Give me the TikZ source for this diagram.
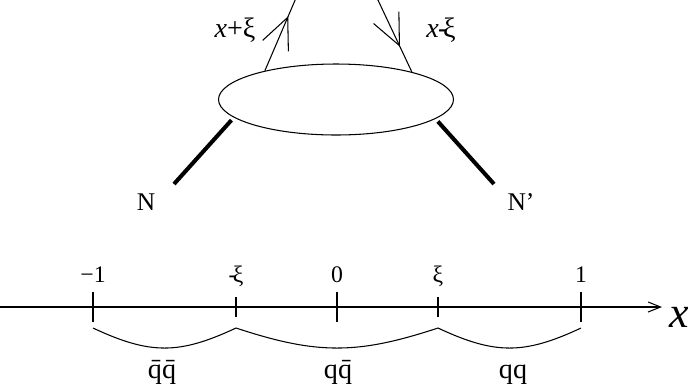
\documentclass[tikz,border=0pt]{standalone}
\usepackage{fontspec}
\setmainfont{Liberation Serif}
\usetikzlibrary{arrows.meta,shapes.geometric,decorations.markings}

\begin{document}
\begin{tikzpicture}[x=0.02cm,y=-0.02cm,
    blob/.style={draw,ellipse,minimum width=4.7cm,minimum height=1.42cm,inner sep=0pt,line width=0.6pt},
    leg/.style={line width=2.3pt,shorten <=2pt},
    quark/.style={line width=0.6pt,postaction={decorate},
      decoration={markings,mark=at position #1 with {\arrow{Straight Barb[length=0.62cm,width=0.56cm]}}}},
    lab/.style={font=\fontsize{14.5}{17}\selectfont,inner sep=0pt,anchor=base},
    biglab/.style={font=\fontsize{16}{19}\selectfont,inner sep=0pt,anchor=base},
    ticklab/.style={font=\fontsize{13.5}{16}\selectfont,inner sep=0pt,anchor=base},
    axis/.style={line width=0.6pt,-{Straight Barb[length=0.25cm,width=0.2cm]}}]
    \useasboundingbox (0,0) rectangle (688,390);

    % Blob with the two quark lines
    \node[blob] (blob) at (336,99.5) {};
    \coordinate (ltop) at (296,-2);
    \coordinate (rtop) at (377,-2);
    \draw[quark=0.75] (blob.158) -- (ltop);
    \draw[quark=0.66] (rtop) -- (blob.20);
    \node[biglab] (xplus) at (235,37) {\textit{x}+ξ};
    \node[biglab] (xminus) at (441,37) {\textit{x}\kern-0.5pt-\kern-2.5pt ξ};

    % Nucleons
    \coordinate (nl) at (174,184);
    \coordinate (nr) at (494,184);
    \draw[leg] (blob.190) -- (nl);
    \draw[leg] (blob.-11) -- (nr);
    \node[lab] (n) at (146,210) {N};
    \node[lab] (nprime) at (521,210) {N’};

    % x axis
    \coordinate (xa) at (0,307);
    \coordinate (xb) at (662,307);
    \draw[axis] (xa) -- (xb);
    \node[font=\fontsize{25}{30}\selectfont,inner sep=0pt,anchor=base] (xlab) at (679,327) {\textit{x}};

    \foreach \name/\pos/\len/\txt in {m1/93/15/{−1}, mxi/236/10/{-\kern-2pt ξ}, zero/337/15/0, xi/438/10/ξ, one/581/15/1} {
      \draw[line width=0.6pt] (\pos,307-\len) -- (\pos,307+\len);
      \node[ticklab] (t\name) at (\pos,282) {\txt};
      \coordinate (b\name) at (\pos,328);
    }

    % Regions
    \draw[line width=0.6pt] (bm1) .. controls +(57,26.7) and +(-57,26.7) .. (bmxi)
      .. controls +(81,26.7) and +(-81,26.7) .. (bxi)
      .. controls +(57,26.7) and +(-57,26.7) .. (bone);
    \node[biglab] (qbqb) at (162,378) {\={q}\={q}};
    \node[biglab] (qqb) at (338,378) {q\={q}};
    \node[biglab] (qq) at (513,378) {qq};
\end{tikzpicture}
\end{document}
